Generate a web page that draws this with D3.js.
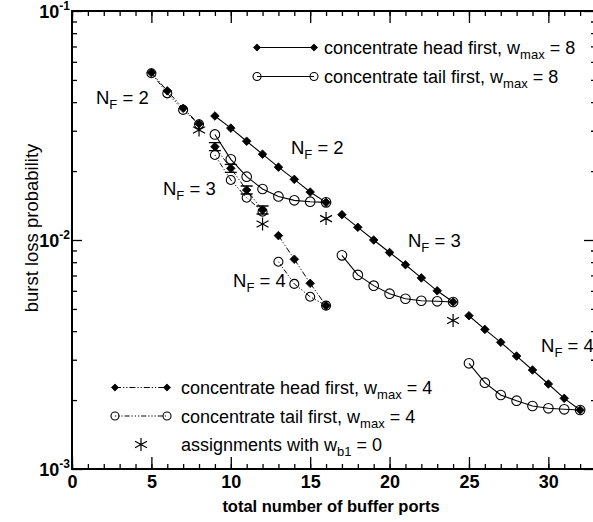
<!DOCTYPE html>
<html>
<head>
<meta charset="utf-8">
<script src="https://cdn.jsdelivr.net/npm/d3@7"></script>
<style>
  html, body { margin: 0; padding: 0; background: #fff; }
  svg { display: block; }
  text { font-family: "Liberation Sans", Arial, Helvetica, sans-serif; fill: #000; }
</style>
</head>
<body>
<svg id="chart" width="593" height="522"></svg>
<script>
// Burst loss probability vs. total number of buffer ports

// x positions (buffer ports) for each fibre-count group
const portsW8NF2 = [9, 10, 11, 12, 13, 14, 15, 16];
const portsW8NF3 = [17, 18, 19, 20, 21, 22, 23, 24];
const portsW8NF4 = [25, 26, 27, 28, 29, 30, 31, 32];
const portsW4NF2 = [5, 6, 7, 8];
const portsW4NF3 = [9, 10, 11, 12];
const portsW4NF4 = [13, 14, 15, 16];

// w_max = 8
const headW8NF2 = [0.0348, 0.0308, 0.0270, 0.0237, 0.0208, 0.0184, 0.0162, 0.0146];
const tailW8NF2 = [0.0289, 0.0225, 0.0189, 0.0167, 0.0155, 0.0149, 0.0147, 0.0146];
const headW8NF3 = [0.0129, 0.01136, 0.0100, 0.00882, 0.0078, 0.00683, 0.0060, 0.00536];
const tailW8NF3 = [0.00857, 0.00704, 0.00632, 0.00583, 0.00554, 0.00543, 0.0054, 0.00536];
const headW8NF4 = [0.00467, 0.00407, 0.003575, 0.003113, 0.002706, 0.00235, 0.002035, 0.00181];
const tailW8NF4 = [0.002894, 0.002381, 0.002104, 0.001987, 0.001884, 0.001841, 0.001823, 0.00181];

// w_max = 4
const headW4NF2 = [0.0538, 0.0448, 0.0376, 0.0322];
const tailW4NF2 = [0.0535, 0.0437, 0.0370, 0.0320];
const headW4NF3 = [0.02555, 0.02056, 0.01653, 0.01352];
const tailW4NF3 = [0.0235, 0.01828, 0.0153, 0.0133];
const headW4NF4 = [0.01045, 0.00824, 0.00647, 0.00517];
const tailW4NF4 = [0.00804, 0.00643, 0.00565, 0.00517];

// assignments with w_b1 = 0
const zeroPorts = [8, 12, 16, 24];
const zeroLoss = [0.0302, 0.01175, 0.0124, 0.00445];

// axis ticks
const xMajorTicks = [0, 5, 10, 15, 20, 25, 30];
const xMinorTicks = d3.range(0, 34);
const yDecades = [1e-3, 1e-2, 1e-1];
const yDecadeExp = ["-3", "-2", "-1"];

// group labels N_F = n, anchored at (ports, loss) of the text baseline start
const groupLabelValues = ["2", "2", "3", "4", "3", "4"];
const groupLabelPorts = [1.51, 13.79, 5.73, 10.14, 21.16, 29.54];
const groupLabelLoss = [0.03925, 0.02374, 0.01572, 0.00623, 0.00932, 0.003243];

const svg = d3.select("#chart");
const W = 593, H = 522;
svg.append("rect").attr("width", W).attr("height", H).attr("fill", "#fff");

const x = d3.scaleLinear().domain([0, 33]).range([72, 596]);
const y = d3.scaleLog().domain([1e-3, 1e-1]).range([469, 11]);

const minorY = [];
[1e-3, 1e-2].forEach(d => { for (let k = 2; k <= 9; k++) minorY.push(d * k); });

// ---- axes (ticks pointing inward on all four sides) ----
function styleAxis(g) {
  g.select(".domain").remove();
  g.selectAll(".tick line").attr("stroke", "#000").attr("stroke-width", 1.3);
}
svg.append("g").attr("transform", "translate(0,469)")
  .call(d3.axisBottom(x).tickValues(xMinorTicks).tickSize(-5).tickFormat(""))
  .call(styleAxis);
svg.append("g").attr("transform", "translate(0,469)")
  .call(d3.axisBottom(x).tickValues(xMajorTicks).tickSize(-12).tickPadding(6).tickFormat(d3.format("d")))
  .call(styleAxis)
  .call(g => g.selectAll("text").attr("font-size", 18).attr("font-weight", "bold")
    .attr("font-family", "Liberation Sans, Arial, sans-serif"));
svg.append("g").attr("transform", "translate(0,11)")
  .call(d3.axisTop(x).tickValues(xMinorTicks).tickSize(-5).tickFormat(""))
  .call(styleAxis);
svg.append("g").attr("transform", "translate(0,11)")
  .call(d3.axisTop(x).tickValues(xMajorTicks).tickSize(-12).tickFormat(""))
  .call(styleAxis);
svg.append("g").attr("transform", "translate(72,0)")
  .call(d3.axisLeft(y).tickValues(minorY).tickSize(-5).tickFormat(""))
  .call(styleAxis);
svg.append("g").attr("transform", "translate(72,0)")
  .call(d3.axisLeft(y).tickValues(yDecades).tickSize(-10).tickFormat(""))
  .call(styleAxis);
svg.append("g").attr("transform", "translate(596,0)")
  .call(d3.axisRight(y).tickValues(minorY).tickSize(-5).tickFormat(""))
  .call(styleAxis);
svg.append("g").attr("transform", "translate(596,0)")
  .call(d3.axisRight(y).tickValues(yDecades).tickSize(-12).tickFormat(""))
  .call(styleAxis);

// frame
svg.append("rect")
  .attr("x", x(0)).attr("y", y(1e-1))
  .attr("width", x(33) - x(0)).attr("height", y(1e-3) - y(1e-1))
  .attr("fill", "none").attr("stroke", "#000").attr("stroke-width", 2);

// y tick labels as powers of ten
yDecades.forEach((d, i) => {
  const t = svg.append("text")
    .attr("x", 70).attr("y", y(d) + 6.5)
    .attr("text-anchor", "end")
    .attr("font-size", 18).attr("font-weight", "bold");
  t.append("tspan").text("10");
  t.append("tspan").attr("dy", -8).attr("font-size", 12).text(yDecadeExp[i]);
});

// axis titles
svg.append("text")
  .attr("x", 331).attr("y", 512)
  .attr("text-anchor", "middle")
  .attr("font-size", 16.5).attr("font-weight", "bold")
  .text("total number of buffer ports");
svg.append("text")
  .attr("transform", `translate(38,228) rotate(-90)`)
  .attr("text-anchor", "middle")
  .attr("font-size", 18.5)
  .text("burst loss probability");

// ---- markers ----
function diamond(g, r) {
  return g.append("path")
    .attr("d", `M0,${-r}L${r},0L0,${r}L${-r},0Z`)
    .attr("fill", "#000").attr("stroke", "#000").attr("stroke-width", 0.8);
}
function ring(g, r) {
  return g.append("circle").attr("r", r)
    .attr("fill", "none").attr("stroke", "#000").attr("stroke-width", 1.1);
}
function asterisk(g, s) {
  const a = s, b = s * 0.92, c = s * 0.5;
  return g.append("path")
    .attr("d", `M0,${-a}L0,${a}M${-b},${-c}L${b},${c}M${-b},${c}L${b},${-c}`)
    .attr("fill", "none").attr("stroke", "#000").attr("stroke-width", 1.2);
}
function diamondBar(g, r) {
  diamond(g, r);
  g.append("path")
    .attr("d", `M${-6},${-4}H6M${-6},4H6`)
    .attr("stroke", "#000").attr("stroke-width", 1.3);
}

const line = d3.line().x(d => x(d.x)).y(d => y(d.y));
const dashHead4 = "6,2,1.2,2,1.2,2";
const dashTail4 = "1.2,2,1.2,2,1.2,2,5,2";

function series(xs, ys, dash, marker, size) {
  const pts = xs.map((v, i) => ({ x: v, y: ys[i] }));
  svg.append("path").datum(pts)
    .attr("d", line)
    .attr("fill", "none").attr("stroke", "#000")
    .attr("stroke-width", dash ? 1 : 1.1)
    .attr("stroke-dasharray", dash || null);
  pts.forEach(p => {
    const g = svg.append("g").attr("transform", `translate(${x(p.x)},${y(p.y)})`);
    marker(g, size);
  });
}

// w_max = 4 (dash-dot lines)
series(portsW4NF2, tailW4NF2, dashTail4, ring, 4.5);
series(portsW4NF2, headW4NF2, dashHead4, diamond, 4.3);
series(portsW4NF3, tailW4NF3, dashTail4, ring, 4.5);
series(portsW4NF3, headW4NF3, dashHead4, diamondBar, 4.3);
series(portsW4NF4, tailW4NF4, dashTail4, ring, 4.5);
series(portsW4NF4, headW4NF4, dashHead4, diamond, 4.3);

// w_max = 8 (solid lines)
series(portsW8NF2, tailW8NF2, null, ring, 4.8);
series(portsW8NF2, headW8NF2, null, diamond, 4.3);
series(portsW8NF3, tailW8NF3, null, ring, 4.8);
series(portsW8NF3, headW8NF3, null, diamond, 4.3);
series(portsW8NF4, tailW8NF4, null, ring, 4.8);
series(portsW8NF4, headW8NF4, null, diamond, 4.3);

// zero-weight assignments
zeroPorts.forEach((p, i) => {
  const g = svg.append("g").attr("transform", `translate(${x(p)},${y(zeroLoss[i])})`);
  asterisk(g, 6.5);
});

// group labels N_F = n
groupLabelValues.forEach((v, i) => {
  const t = svg.append("text")
    .attr("x", x(groupLabelPorts[i])).attr("y", y(groupLabelLoss[i]))
    .attr("font-size", 18.5);
  t.append("tspan").text("N");
  t.append("tspan").attr("dy", 5).attr("font-size", 13).text("F");
  t.append("tspan").attr("dy", -5).text(" = " + v);
});

// ---- legends ----
function legendRow(x0, x1, tx, yy, dash, marker, size, label, sub, tail) {
  if (dash !== undefined) {
    svg.append("line").attr("x1", x0).attr("x2", x1).attr("y1", yy).attr("y2", yy)
      .attr("stroke", "#000").attr("stroke-width", 1.1)
      .attr("stroke-dasharray", dash || null);
    [x0, x1].forEach(xx => marker(svg.append("g").attr("transform", `translate(${xx},${yy})`), size));
  } else {
    marker(svg.append("g").attr("transform", `translate(${(x0 + x1) / 2},${yy})`), size);
  }
  const t = svg.append("text").attr("x", tx).attr("y", yy + 6.5).attr("font-size", 18);
  t.append("tspan").text(label);
  t.append("tspan").attr("dy", 5).attr("font-size", 13).text(sub);
  t.append("tspan").attr("dy", -5).text(tail);
}

legendRow(257, 314, 324, 47.5, null, diamond, 3.6, "concentrate head first, w", "max", " = 8");
legendRow(257, 314, 324, 76.5, null, ring, 4, "concentrate tail first, w", "max", " = 8");
legendRow(115, 167, 181, 387.5, dashHead4, diamond, 3.6, "concentrate head first, w", "max", " = 4");
legendRow(115, 167, 181, 416, dashTail4, ring, 4, "concentrate tail first, w", "max", " = 4");
legendRow(115, 167, 181, 444.5, undefined, asterisk, 6.5, "assignments with w", "b1", " = 0");
</script>
</body>
</html>
